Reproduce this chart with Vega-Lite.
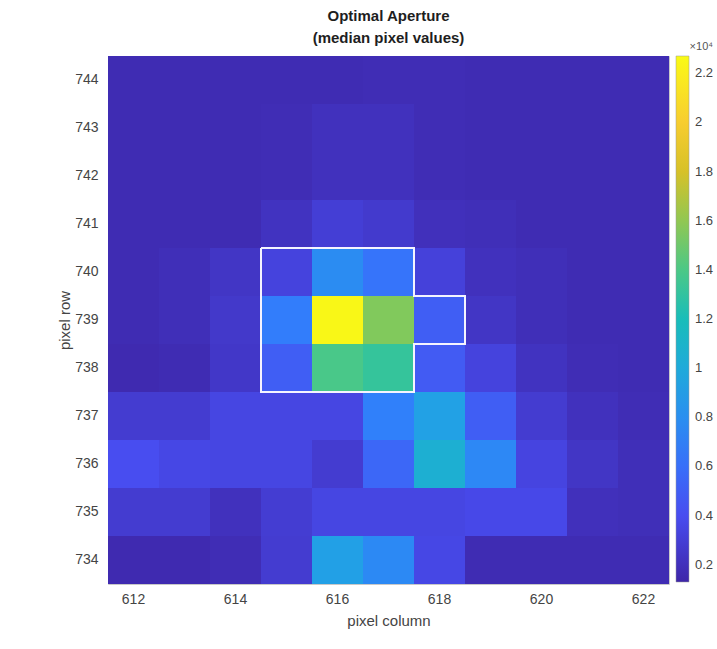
{
  "$schema": "https://vega.github.io/schema/vega-lite/v6.json",
  "width": 561,
  "height": 528,
  "autosize": {"type": "none"},
  "padding": {"left": 108, "top": 56, "right": 48, "bottom": 65},
  "background": "white",
  "config": {
    "font": "Liberation Sans",
    "view": {"stroke": "#c8c8c8", "strokeWidth": 1},
    "axis": {"grid": false}
  },
  "title": {
    "text": ["Optimal Aperture", "(median pixel values)"],
    "fontSize": 15,
    "fontWeight": "bold",
    "color": "#1e1e1e",
    "lineHeight": 22,
    "offset": -5,
    "anchor": "middle"
  },
  "datasets": {
    "pix": [
      {"c":612,"r":744,"v":0.17},{"c":613,"r":744,"v":0.17},{"c":614,"r":744,"v":0.17},{"c":615,"r":744,"v":0.17},{"c":616,"r":744,"v":0.17},{"c":617,"r":744,"v":0.18},{"c":618,"r":744,"v":0.18},{"c":619,"r":744,"v":0.17},{"c":620,"r":744,"v":0.17},{"c":621,"r":744,"v":0.17},{"c":622,"r":744,"v":0.17},
      {"c":612,"r":743,"v":0.17},{"c":613,"r":743,"v":0.17},{"c":614,"r":743,"v":0.17},{"c":615,"r":743,"v":0.18},{"c":616,"r":743,"v":0.21},{"c":617,"r":743,"v":0.21},{"c":618,"r":743,"v":0.18},{"c":619,"r":743,"v":0.17},{"c":620,"r":743,"v":0.17},{"c":621,"r":743,"v":0.17},{"c":622,"r":743,"v":0.17},
      {"c":612,"r":742,"v":0.17},{"c":613,"r":742,"v":0.17},{"c":614,"r":742,"v":0.17},{"c":615,"r":742,"v":0.18},{"c":616,"r":742,"v":0.21},{"c":617,"r":742,"v":0.21},{"c":618,"r":742,"v":0.18},{"c":619,"r":742,"v":0.17},{"c":620,"r":742,"v":0.17},{"c":621,"r":742,"v":0.17},{"c":622,"r":742,"v":0.17},
      {"c":612,"r":741,"v":0.17},{"c":613,"r":741,"v":0.17},{"c":614,"r":741,"v":0.17},{"c":615,"r":741,"v":0.22},{"c":616,"r":741,"v":0.30},{"c":617,"r":741,"v":0.27},{"c":618,"r":741,"v":0.20},{"c":619,"r":741,"v":0.19},{"c":620,"r":741,"v":0.17},{"c":621,"r":741,"v":0.17},{"c":622,"r":741,"v":0.17},
      {"c":612,"r":740,"v":0.17},{"c":613,"r":740,"v":0.19},{"c":614,"r":740,"v":0.24},{"c":615,"r":740,"v":0.33},{"c":616,"r":740,"v":0.78},{"c":617,"r":740,"v":0.63},{"c":618,"r":740,"v":0.32},{"c":619,"r":740,"v":0.21},{"c":620,"r":740,"v":0.19},{"c":621,"r":740,"v":0.17},{"c":622,"r":740,"v":0.17},
      {"c":612,"r":739,"v":0.17},{"c":613,"r":739,"v":0.19},{"c":614,"r":739,"v":0.26},{"c":615,"r":739,"v":0.68},{"c":616,"r":739,"v":2.25},{"c":617,"r":739,"v":1.56},{"c":618,"r":739,"v":0.50},{"c":619,"r":739,"v":0.24},{"c":620,"r":739,"v":0.19},{"c":621,"r":739,"v":0.17},{"c":622,"r":739,"v":0.17},
      {"c":612,"r":738,"v":0.16},{"c":613,"r":738,"v":0.17},{"c":614,"r":738,"v":0.25},{"c":615,"r":738,"v":0.50},{"c":616,"r":738,"v":1.39},{"c":617,"r":738,"v":1.32},{"c":618,"r":738,"v":0.48},{"c":619,"r":738,"v":0.33},{"c":620,"r":738,"v":0.22},{"c":621,"r":738,"v":0.18},{"c":622,"r":738,"v":0.17},
      {"c":612,"r":737,"v":0.28},{"c":613,"r":737,"v":0.28},{"c":614,"r":737,"v":0.35},{"c":615,"r":737,"v":0.35},{"c":616,"r":737,"v":0.35},{"c":617,"r":737,"v":0.70},{"c":618,"r":737,"v":0.92},{"c":619,"r":737,"v":0.50},{"c":620,"r":737,"v":0.28},{"c":621,"r":737,"v":0.21},{"c":622,"r":737,"v":0.18},
      {"c":612,"r":736,"v":0.40},{"c":613,"r":736,"v":0.36},{"c":614,"r":736,"v":0.35},{"c":615,"r":736,"v":0.35},{"c":616,"r":736,"v":0.28},{"c":617,"r":736,"v":0.55},{"c":618,"r":736,"v":1.05},{"c":619,"r":736,"v":0.75},{"c":620,"r":736,"v":0.34},{"c":621,"r":736,"v":0.24},{"c":622,"r":736,"v":0.19},
      {"c":612,"r":735,"v":0.28},{"c":613,"r":735,"v":0.28},{"c":614,"r":735,"v":0.21},{"c":615,"r":735,"v":0.29},{"c":616,"r":735,"v":0.35},{"c":617,"r":735,"v":0.35},{"c":618,"r":735,"v":0.35},{"c":619,"r":735,"v":0.37},{"c":620,"r":735,"v":0.37},{"c":621,"r":735,"v":0.20},{"c":622,"r":735,"v":0.19},
      {"c":612,"r":734,"v":0.16},{"c":613,"r":734,"v":0.16},{"c":614,"r":734,"v":0.18},{"c":615,"r":734,"v":0.28},{"c":616,"r":734,"v":0.91},{"c":617,"r":734,"v":0.76},{"c":618,"r":734,"v":0.36},{"c":619,"r":734,"v":0.17},{"c":620,"r":734,"v":0.17},{"c":621,"r":734,"v":0.17},{"c":622,"r":734,"v":0.17}
    ],
    "aperture": [
      {"o":0,"ox":614.5,"oy":740.5},
      {"o":1,"ox":617.5,"oy":740.5},
      {"o":2,"ox":617.5,"oy":739.5},
      {"o":3,"ox":618.5,"oy":739.5},
      {"o":4,"ox":618.5,"oy":738.5},
      {"o":5,"ox":617.5,"oy":738.5},
      {"o":6,"ox":617.5,"oy":737.5},
      {"o":7,"ox":614.5,"oy":737.5},
      {"o":8,"ox":614.5,"oy":740.5}
    ]
  },
  "layer": [
    {
      "data": {"name": "pix"},
      "mark": {"type": "rect"},
      "encoding": {
        "x": {
          "field": "c",
          "type": "ordinal",
          "scale": {"paddingInner": 0, "paddingOuter": 0},
          "axis": {
            "values": [612, 614, 616, 618, 620, 622],
            "title": "pixel column",
            "titleFontSize": 15,
            "titleFontWeight": "normal",
            "titleColor": "#444444",
            "titlePadding": 7,
            "labelFontSize": 14,
            "labelColor": "#444444",
            "labelAngle": 0,
            "labelPadding": 8,
            "ticks": false,
            "tickSize": 0,
            "grid": false,
            "domain": false
          }
        },
        "y": {
          "field": "r",
          "type": "ordinal",
          "sort": "descending",
          "scale": {"paddingInner": 0, "paddingOuter": 0},
          "axis": {
            "title": "pixel row",
            "titleFontSize": 15,
            "titleFontWeight": "normal",
            "titleColor": "#444444",
            "titlePadding": 2,
            "labelFontSize": 14,
            "labelColor": "#444444",
            "labelPadding": 10,
            "ticks": false,
            "tickSize": 0,
            "grid": false,
            "domain": false
          }
        },
        "color": {
          "field": "v",
          "type": "quantitative",
          "scale": {
            "type": "linear",
            "domain": [0.13, 0.4017, 0.6735, 0.9452, 1.217, 1.4887, 1.7605, 2.0322, 2.27],
            "range": ["#3e26a8", "#484df0", "#327cfc", "#20a5e3", "#19bfb6", "#64cd6f", "#d1bf27", "#fccf30", "#f9fb15"],
            "interpolate": "rgb",
            "clamp": true
          },
          "legend": {
            "orient": "none",
            "legendX": 568,
            "legendY": -15,
            "direction": "vertical",
            "type": "gradient",
            "title": "×10⁴",
            "titleFontSize": 11,
            "titleFontWeight": "normal",
            "titleColor": "#555555",
            "titleAnchor": "end",
            "titlePadding": 4,
            "gradientLength": 526,
            "gradientThickness": 13,
            "gradientStrokeColor": "#999999",
            "gradientStrokeWidth": 0.5,
            "values": [0.2, 0.4, 0.6, 0.8, 1, 1.2, 1.4, 1.6, 1.8, 2, 2.2],
            "format": "~g",
            "labelFontSize": 13,
            "labelColor": "#444444",
            "labelOffset": 6,
            "labelOverlap": false
          }
        }
      }
    },
    {
      "data": {"name": "aperture"},
      "mark": {"type": "line", "color": "#f4f4ff", "strokeWidth": 2, "strokeJoin": "miter"},
      "encoding": {
        "x": {"field": "ox", "type": "quantitative", "scale": {"domain": [611.5, 622.5], "nice": false, "zero": false}, "axis": null},
        "y": {"field": "oy", "type": "quantitative", "scale": {"domain": [733.5, 744.5], "nice": false, "zero": false}, "axis": null},
        "order": {"field": "o"}
      }
    }
  ],
  "resolve": {"scale": {"x": "independent", "y": "independent"}, "axis": {"x": "independent", "y": "independent"}}
}
